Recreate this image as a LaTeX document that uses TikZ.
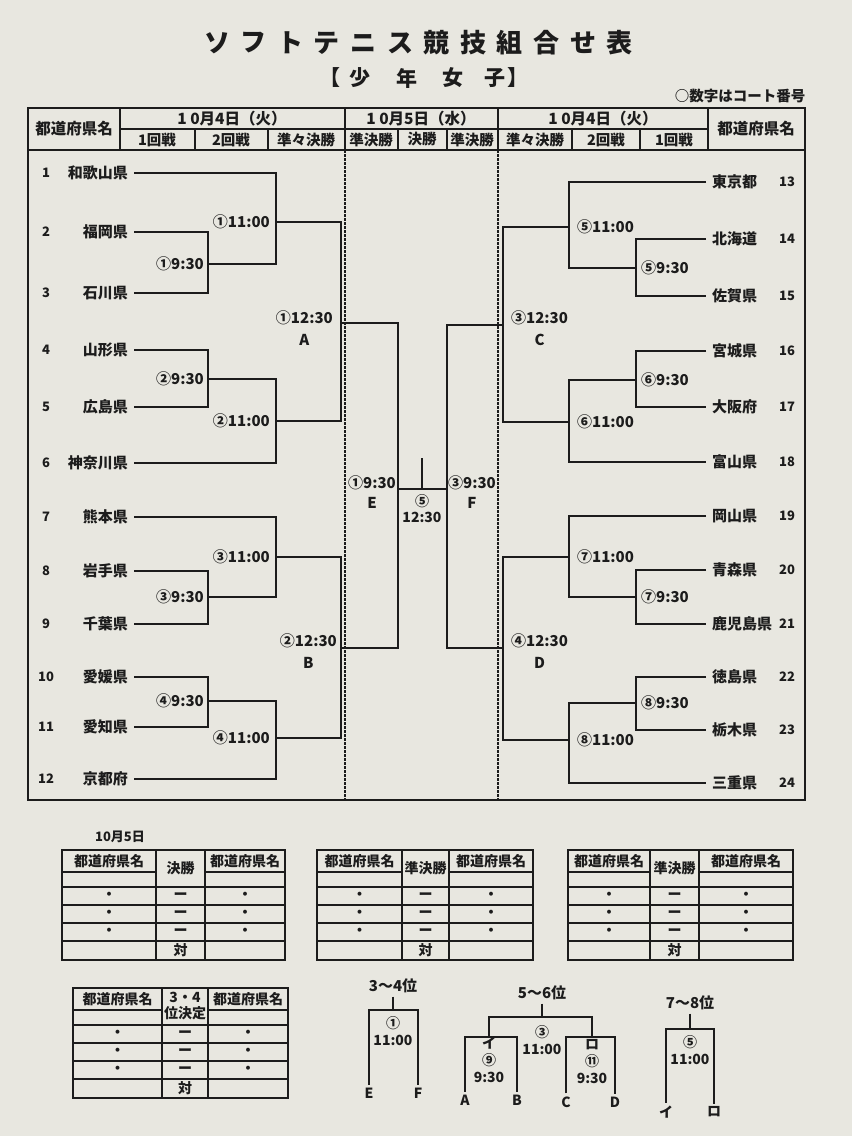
\documentclass[tikz,border=0pt]{standalone}
\usepackage{fontspec}
\newfontfamily\jpfont{Noto Sans CJK JP}
\usepackage{tikz}
\usetikzlibrary{positioning,calc}
\definecolor{paper}{RGB}{232,231,224}
\definecolor{ink}{RGB}{28,28,28}
\newcommand{\fsz}[1]{\fontsize{#1}{#1}\selectfont}
\newcommand{\fszb}[2]{\fontsize{#1}{#2}\selectfont}

% result table below the bracket
\newcommand{\restable}[7]{%
  \draw[tbl] (#2,#6) rectangle (#5,#6+110);
  \draw[tbl] (#3,#6) -- (#3,#6+110) (#4,#6) -- (#4,#6+110);
  \draw[tbl] (#2,#6+22) -- (#3,#6+22) (#4,#6+22) -- (#5,#6+22);
  \foreach \r in {37,55,73,91} \draw[tbl] (#2,#6+\r) -- (#5,#6+\r);
  \node[cell] (#1a) at ({(#2+#3)/2},#6+11) {都道府県名};
  \node[cell, align=center, font=\jpfont\bfseries\fszb{14}{16}] (#1b) at ({(#3+#4)/2},#6+18.5) {#7};
  \node[cell] (#1c) at ({(#4+#5)/2},#6+11) {都道府県名};
  \foreach \r [count=\k] in {46,64,82} {
    \node[cell] (#1l\k) at ({(#2+#3)/2},#6+\r) {・};
    \node[cell] (#1m\k) at ({(#3+#4)/2},#6+\r) {ー};
    \node[cell] (#1r\k) at ({(#4+#5)/2},#6+\r) {・};
  }
  \node[cell] (#1v) at ({(#3+#4)/2},#6+100.5) {対};
}

\begin{document}
\begin{tikzpicture}[x=1pt, y=-1pt,
    brk/.style={draw=ink, line width=1.7pt},
    tbl/.style={draw=ink, line width=1.6pt},
    dline/.style={draw=ink, line width=1.1pt, dash pattern=on 2.5pt off 1.5pt},
    ttl/.style={text=ink, font=\jpfont\bfseries\fsz{26}},
    subttl/.style={text=ink, font=\jpfont\bfseries\fsz{21}},
    hdr/.style={text=ink, font=\jpfont\bfseries\fsz{15.5}},
    rnd/.style={text=ink, font=\jpfont\bfseries\fsz{14.5}},
    team/.style={text=ink, font=\jpfont\bfseries\fsz{15}, inner xsep=6pt, inner ysep=2pt},
    num/.style={text=ink, font=\jpfont\bfseries\fsz{13}},
    lbl/.style={text=ink, font=\jpfont\bfseries\fsz{15}, inner sep=2pt},
    semi/.style={text=ink, font=\jpfont\bfseries\fszb{15}{22}, align=center, inner sep=2pt},
    cell/.style={text=ink, font=\jpfont\bfseries\fsz{14}, inner sep=0pt},
    plc/.style={text=ink, font=\jpfont\bfseries\fsz{15}},
    leg/.style={text=ink, font=\jpfont\bfseries\fsz{14}, inner sep=3pt},
    blbl/.style={text=ink, font=\jpfont\bfseries\fszb{14}{17}, align=center}]

    % paper
    \fill[paper] (0,0) rectangle (852,1136);
    \useasboundingbox (0,0) rectangle (852,1136);

    % Title
    \foreach \c [count=\i] in {ソ,フ,ト,テ,ニ,ス,競,技,組,合,せ,表}
        \node[ttl] (ttl\i) at ({217+36.6*(\i-1)},43) {\c};
    \foreach \c/\x [count=\i] in {【/330,少/360,年/407,女/453,子/495,】/518}
        \node[subttl] (sub\i) at (\x,78) {\c};
    \node[rnd] (note) at (740,96) {○数字はコート番号};

    % Frame and header
    \draw[tbl] (28,108) rectangle (805,800);
    \draw[tbl] (120,129) -- (708,129);
    \draw[tbl] (28,150) -- (805,150);
    \foreach \x in {120,345,498,708} \draw[tbl] (\x,108) -- (\x,150);
    \foreach \x in {195,268,398,447,572,640} \draw[tbl] (\x,129) -- (\x,150);
    \foreach \x in {345,498} \draw[dline] (\x,150) -- (\x,800);

    \node[hdr] (hpl) at (74,129) {都道府県名};
    \node[hdr] (hpr) at (756,129) {都道府県名};
    \node[hdr] (hd1) at (232,118.5) {1 0月4日（火）};
    \node[hdr] (hd2) at (421,118.5) {1 0月5日（水）};
    \node[hdr] (hd3) at (603,118.5) {1 0月4日（火）};
    \foreach \x/\r [count=\i] in {157/1回戦,231/2回戦,306/準々決勝,371/準決勝,422/決勝,472/準決勝,535/準々決勝,606/2回戦,674/1回戦}
        \node[rnd] (hr\i) at (\x,139.5) {\r};

    % Teams, left block
    \foreach \n/\name/\y in {1/和歌山県/173,2/福岡県/232,3/石川県/293,4/山形県/350,5/広島県/407,6/神奈川県/463,
                             7/熊本県/517,8/岩手県/571,9/千葉県/624,10/愛媛県/677,11/愛知県/727,12/京都府/779} {
        \node[num] (n\n) at (46,\y) {\n};
        \node[team, anchor=east] (t\n) at (134,\y) {\name};
    }
    % Teams, right block
    \foreach \n/\name/\y in {13/東京都/182,14/北海道/239,15/佐賀県/296,16/宮城県/351,17/大阪府/407,18/富山県/462,
                             19/岡山県/516,20/青森県/570,21/鹿児島県/624,22/徳島県/677,23/栃木県/730,24/三重県/783} {
        \node[team, anchor=west] (t\n) at (706,\y) {\name};
        \node[num] (n\n) at (787,\y) {\n};
    }

    % Junctions
    \coordinate (m1) at (208,264);
    \coordinate (m2) at (276,222);
    \coordinate (m3) at (208,379);
    \coordinate (m4) at (276,421);
    \coordinate (m5) at (208,597);
    \coordinate (m6) at (276,557);
    \coordinate (m7) at (208,701);
    \coordinate (m8) at (276,738);
    \coordinate (A) at (341,323);
    \coordinate (B) at (341,648);
    \coordinate (m9) at (569,227);
    \coordinate (m10) at (636,268);
    \coordinate (m11) at (636,380);
    \coordinate (m12) at (569,422);
    \coordinate (m13) at (569,557);
    \coordinate (m14) at (636,597);
    \coordinate (m15) at (636,703);
    \coordinate (m16) at (569,740);
    \coordinate (C) at (503,325);
    \coordinate (D) at (503,648);
    \coordinate (E) at (398,489);
    \coordinate (F) at (447,489);
    \coordinate (fin) at (422,489);
    \coordinate (champ) at (422,458);

    % Bracket, left
    \draw[brk] (t2) -| (m1) |- (t3);
    \draw[brk] (t1) -| (m2) |- (m1);
    \draw[brk] (t4) -| (m3) |- (t5);
    \draw[brk] (m3) -| (m4) |- (t6);
    \draw[brk] (m2) -| (A) |- (m4);
    \draw[brk] (t8) -| (m5) |- (t9);
    \draw[brk] (t7) -| (m6) |- (m5);
    \draw[brk] (t10) -| (m7) |- (t11);
    \draw[brk] (m7) -| (m8) |- (t12);
    \draw[brk] (m6) -| (B) |- (m8);
    % Bracket, right
    \draw[brk] (t14) -| (m10) |- (t15);
    \draw[brk] (t13) -| (m9) |- (m10);
    \draw[brk] (t16) -| (m11) |- (t17);
    \draw[brk] (m11) -| (m12) |- (t18);
    \draw[brk] (m9) -| (C) |- (m12);
    \draw[brk] (t20) -| (m14) |- (t21);
    \draw[brk] (t19) -| (m13) |- (m14);
    \draw[brk] (t22) -| (m15) |- (t23);
    \draw[brk] (m15) -| (m16) |- (t24);
    \draw[brk] (m13) -| (D) |- (m16);
    % Semifinals and final
    \draw[brk] (A) -| (E) |- (B);
    \draw[brk] (C) -| (F) |- (D);
    \draw[brk] (E) -- (F);
    \draw[brk, line width=1.2pt] (fin) -- (champ);

    % Court and time, left
    \node[lbl, anchor=east] (l1) at ([xshift=-2pt]m1) {①9:30};
    \node[lbl, anchor=east] (l2) at ([xshift=-4pt]m2) {①11:00};
    \node[lbl, anchor=east] (l3) at ([xshift=-2pt]m3) {②9:30};
    \node[lbl, anchor=east] (l4) at ([xshift=-4pt]m4) {②11:00};
    \node[lbl, anchor=east] (l5) at ([xshift=-2pt]m5) {③9:30};
    \node[lbl, anchor=east] (l6) at ([xshift=-4pt]m6) {③11:00};
    \node[lbl, anchor=east] (l7) at ([xshift=-2pt]m7) {④9:30};
    \node[lbl, anchor=east] (l8) at ([xshift=-4pt]m8) {④11:00};
    \node[semi, anchor=east] (lA) at ([xshift=-6pt, yshift=-5pt]A) {①12:30\\A};
    \node[semi, anchor=east] (lB) at ([xshift=-2pt, yshift=-3pt]B) {②12:30\\B};
    % Court and time, right
    \node[lbl, anchor=west] (l9) at ([xshift=6pt]m9) {⑤11:00};
    \node[lbl, anchor=west] (l10) at ([xshift=3pt]m10) {⑤9:30};
    \node[lbl, anchor=west] (l11) at ([xshift=3pt]m11) {⑥9:30};
    \node[lbl, anchor=west] (l12) at ([xshift=6pt]m12) {⑥11:00};
    \node[lbl, anchor=west] (l13) at ([xshift=6pt]m13) {⑦11:00};
    \node[lbl, anchor=west] (l14) at ([xshift=3pt]m14) {⑦9:30};
    \node[lbl, anchor=west] (l15) at ([xshift=3pt]m15) {⑧9:30};
    \node[lbl, anchor=west] (l16) at ([xshift=6pt]m16) {⑧11:00};
    \node[semi, anchor=west] (lC) at ([xshift=6pt, yshift=-3pt]C) {③12:30\\C};
    \node[semi, anchor=west] (lD) at ([xshift=6pt, yshift=-3pt]D) {④12:30\\D};
    % Center
    \node[semi, font=\jpfont\bfseries\fszb{15}{20}] (lE) at (372,492) {①9:30\\E};
    \node[semi, font=\jpfont\bfseries\fszb{15}{20}] (lF) at (472,492) {③9:30\\F};
    \node[semi, font=\jpfont\bfseries\fszb{14}{16}] (lfin) at (422,509) {⑤\\12:30};

    % Result tables
    \node[num] (day5) at (120,837) {10月5日};
    \restable{ra}{62}{156}{205}{285}{850}{決勝}
    \restable{rb}{317}{402}{449}{533}{850}{準決勝}
    \restable{rc}{568}{650}{699}{793}{850}{準決勝}
    \restable{rd}{73}{162}{208}{288}{988}{3・4\\位決定}

    % 3-4
    \node[plc] (p34) at (393,986) {3〜4位};
    \coordinate (j34) at (393,1010);
    \node[leg] (qE) at (369,1093) {E};
    \node[leg] (qF) at (418,1093) {F};
    \draw[brk] (p34) -- (j34);
    \draw[brk] (qE) |- (j34) -| (qF);
    \node[blbl] (l34) at (393,1031) {①\\11:00};

    % 5-6
    \node[plc] (p56) at (542,993) {5〜6位};
    \coordinate (j56) at (542,1017);
    \coordinate (kI) at (489,1037);
    \coordinate (kRo) at (592,1037);
    \node[leg] (qA) at (465,1100) {A};
    \node[leg] (qB) at (517,1100) {B};
    \node[leg] (qC) at (566,1102) {C};
    \node[leg] (qD) at (615,1102) {D};
    \draw[brk] (p56) -- (j56);
    \draw[brk] (kI) |- (j56) -| (kRo);
    \draw[brk] (qA) |- (kI) -| (qB);
    \draw[brk] (qC) |- (kRo) -| (qD);
    \node[blbl] (l56) at (542,1040) {③\\11:00};
    \node[blbl] (lI) at (489,1060) {イ\\⑨\\9:30};
    \node[blbl] (lRo) at (592,1062) {ロ\\⑪\\9:30};

    % 7-8
    \node[plc] (p78) at (690,1003) {7〜8位};
    \coordinate (j78) at (690,1029);
    \node[leg] (qI) at (666,1112) {イ};
    \node[leg] (qRo) at (714,1112) {ロ};
    \draw[brk] (p78) -- (j78);
    \draw[brk] (qI) |- (j78) -| (qRo);
    \node[blbl] (l78) at (690,1050) {⑤\\11:00};
\end{tikzpicture}
\end{document}
